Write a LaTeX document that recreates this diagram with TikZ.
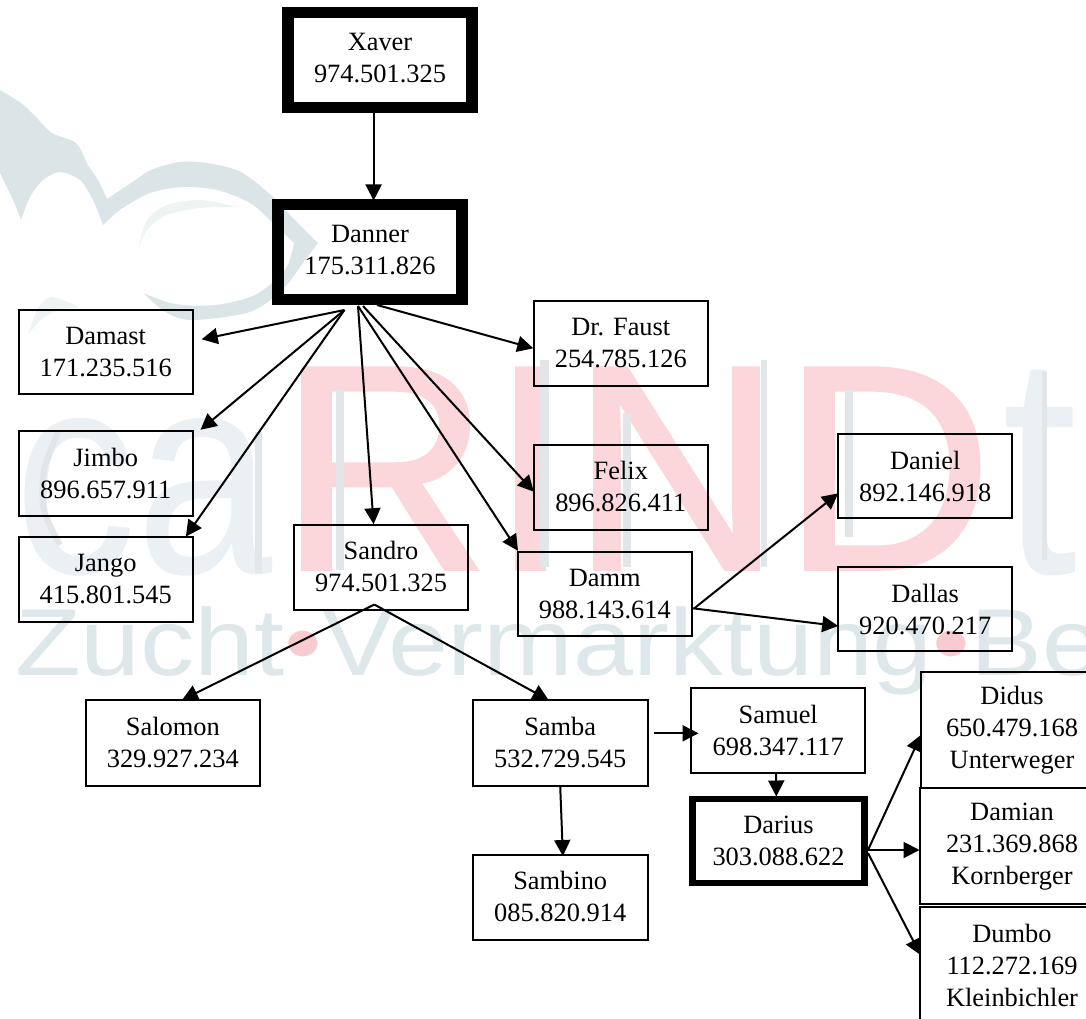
\documentclass[tikz,border=0pt]{standalone}
\usepackage{fontspec}
\setmainfont{Liberation Serif}
\newfontfamily\wmfont{Liberation Sans}
\newfontfamily\wmheavy[FakeBold=1.2]{Liberation Sans}
\usetikzlibrary{arrows.meta,calc}
\definecolor{wmbird}{HTML}{DBE5E8}
\definecolor{wmlight}{HTML}{EEF3F4}
\definecolor{wmca}{HTML}{EBF0F4}
\definecolor{wmline}{HTML}{E2E6E8}
\definecolor{wmpink}{HTML}{FBD7DB}
\definecolor{wmdot}{HTML}{F9CBD1}
\definecolor{wmzucht}{HTML}{DEE7E9}
\tikzset{
  box/.style={draw=black,line width=2pt,inner sep=0pt,outer sep=0pt,align=center,
    font=\fontsize{26.4}{32}\selectfont},
  heavy/.style={box,line width=11.5pt},
  medium/.style={box,line width=6.5pt},
  arr/.style={draw=black,line width=2pt,-{Triangle[length=16pt,width=16pt]}},
  wm/.style={inner sep=0pt,outer sep=0pt,anchor=base west},
  smoothseg/.style={smooth,tension=.5}
}
\begin{document}
\begin{tikzpicture}[x=1pt,y=-1pt]
\useasboundingbox (0,0) rectangle (1086,1019);
\clip (0,0) rectangle (1086,1019);
% watermark: bird
\fill[wmbird] plot[smoothseg] coordinates {(0,90)(21,103)(34,115)(52,133)(76,143)(88,165)(98,180)(107,199)}
 -- plot[smoothseg] coordinates {(107,199)(131,183)(151,170)(179,162)(207,163)(241,172)(272,196)(293,218)(318,243)}
 -- plot[smoothseg] coordinates {(318,243)(303,263)(282,290)(250,312)(193,320)(167,313)(143,293)}
 -- plot[smoothseg] coordinates {(143,293)(175,304)(215,305)(255,295)(285,270)(294,243)}
 -- plot[smoothseg] coordinates {(294,243)(273,223)(250,203)(217,190)(183,187)(150,193)(120,210)(103,225)}
 -- plot[smoothseg] coordinates {(103,225)(93,200)(80,180)(60,172)(43,180)(30,197)(21,220)}
 -- plot[smoothseg] coordinates {(21,220)(13,200)(0,173)} -- cycle;
\fill[wmlight] plot[smoothseg] coordinates {(237,207)(200,200)(167,205)(147,220)(138,250)}
 -- plot[smoothseg] coordinates {(138,250)(147,230)(167,215)(200,208)(237,207)} -- cycle;
\fill[wmlight] plot[smoothseg] coordinates {(28,335)(38,308)(52,297)(79,307)}
 -- plot[smoothseg] coordinates {(79,307)(58,310)(41,320)(28,335)} -- cycle;
% watermark: lettering
\node[wm] (wmca) at (14,573) {\wmfont\color{wmca}\resizebox{258pt}{155pt}{ca}};
\node[wm] (wmrind) at (279,569) {\wmheavy\fontsize{292}{292}\selectfont\color{wmpink}RIND};
\node[wm] (wmt) at (1002,573) {\wmfont\color{wmca}\resizebox{75pt}{203pt}{t}};
\node[wm] (wmzucht) at (15,675) {\wmfont\fontsize{95}{95}\selectfont\scalebox{1.134}[1]{\color{wmzucht}Zucht\textcolor{wmdot}{•}Vermarktung\textcolor{wmdot}{•}Be}};
\fill[wmline] (336,390) rectangle (344,570);
\fill[wmline] (540,360) rectangle (549,567);
\fill[wmline] (623,413) rectangle (631,567);
\fill[wmline] (761,360) rectangle (767,567);
\fill[wmline] (845,390) rectangle (853,537);
\fill[wmline] (1042,372) rectangle (1047,560);
\fill[wmline] (255,432) rectangle (262,573);
\draw[wmline,line width=6pt] plot[smoothseg] coordinates {(58,432)(44,470)(44,510)(60,545)};
% nodes
\node[heavy,minimum width=184pt,minimum height=95pt] (xaver) at (380,60) {\raisebox{5pt}{\begin{tabular}{@{}c@{}}Xaver\\974.501.325\end{tabular}}};
\node[heavy,minimum width=184pt,minimum height=95pt] (danner) at (370,252) {\raisebox{5pt}{\begin{tabular}{@{}c@{}}Danner\\175.311.826\end{tabular}}};
\node[box,minimum width=174pt,minimum height=84pt] (damast) at (105.7,352) {Damast\\171.235.516};
\node[box,minimum width=174pt,minimum height=85pt] (jimbo) at (105.7,473.8) {Jimbo\\896.657.911};
\node[box,minimum width=174pt,minimum height=85pt] (jango) at (105.7,579.5) {Jango\\415.801.545};
\node[box,minimum width=174pt,minimum height=85pt] (sandro) at (381,567) {Sandro\\974.501.325};
\node[box,minimum width=174pt,minimum height=85pt] (faust) at (620.8,343.3) {Dr. Faust\\254.785.126};
\node[box,minimum width=174pt,minimum height=85pt] (felix) at (620.8,487) {Felix\\896.826.411};
\node[box,minimum width=174pt,minimum height=84pt] (damm) at (604.8,594.3) {Damm\\988.143.614};
\node[box,minimum width=174pt,minimum height=84pt] (daniel) at (925.2,476.3) {Daniel\\892.146.918};
\node[box,minimum width=174pt,minimum height=84pt] (dallas) at (925.2,609.2) {Dallas\\920.470.217};
\node[box,minimum width=174.5pt,minimum height=86pt] (salomon) at (172.8,743) {Salomon\\329.927.234};
\node[box,minimum width=175pt,minimum height=86pt] (samba) at (560.2,743) {Samba\\532.729.545};
\node[box,minimum width=175pt,minimum height=85pt] (sambino) at (560.2,897) {Sambino\\085.820.914};
\node[box,minimum width=174pt,minimum height=84.4pt] (samuel) at (778.2,730.5) {Samuel\\698.347.117};
\node[medium,minimum width=172pt,minimum height=84pt] (darius) at (778.5,841) {Darius\\303.088.622};
\node[box,minimum width=182.6pt,minimum height=115.7pt] (didus) at (1012,729.9) {Didus\\650.479.168\\Unterweger};
\node[box,minimum width=184pt,minimum height=116pt] (damian) at (1012,846.3) {Damian\\231.369.868\\Kornberger};
\node[box,minimum width=184pt,minimum height=117pt] (dumbo) at (1012,965.8) {Dumbo\\112.272.169\\Kleinbichler};
% connectors
\draw[arr] (xaver.south) ++(-6.4,6) -- ($(danner.north)+(3.6,-4)$);
\draw[arr] ($(danner.south)+(-25.6,10.5)$) -- ($(damast.east)+(9,-12.7)$);
\draw[arr] ($(danner.south)+(-25.6,10.5)$) -- ($(jimbo.north east)+(7.8,-1.5)$);
\draw[arr] ($(danner.south)+(-25.6,10.5)$) -- ($(jango.north east)+(-6.8,-0.5)$);
\draw[arr] ($(danner.south)+(-12,6.5)$) -- ($(sandro.north)+(-7.4,-0.3)$);
\draw[arr] ($(danner.south)+(-12,6.5)$) -- ($(damm.north west)+(0.2,-1.5)$);
\draw[arr] ($(danner.south)+(-7,6.5)$) -- ($(felix.west)+(0,4.7)$);
\draw[arr] ($(danner.south)+(7,5.5)$) -- ($(faust.west)+(-0.5,5)$);
\draw[arr] ($(sandro.south)+(-6.7,-5)$) -- ($(salomon.north)+(9.2,0)$);
\draw[arr] ($(sandro.south)+(-6.7,-5)$) -- ($(samba.north)+(-11.6,0)$);
\draw[arr] ($(damm.east)+(2.5,14)$) -- ($(daniel.west)+(0,17)$);
\draw[arr] ($(damm.east)+(1,14)$) -- ($(dallas.west)+(0,16.8)$);
\draw[arr] ($(samba.east)+(6,-9.7)$) -- ($(samuel.west)+(7.3,2.8)$);
\draw[arr] (samba.south) -- ($(sambino.north)+(2.7,1.5)$);
\draw[arr] (samuel.south) ++(-2,0) -- ($(darius.north)+(-2.2,-2.5)$);
\draw[arr] ($(darius.east)+(3.5,9)$) -- ($(didus.west)+(0.3,5)$);
\draw[arr] ($(darius.east)+(3.5,9)$) -- ($(damian.west)+(-0.5,3.7)$);
\draw[arr] ($(darius.east)+(3.5,12)$) -- ($(dumbo.west)+(0.5,-10.8)$);
\end{tikzpicture}
\end{document}
